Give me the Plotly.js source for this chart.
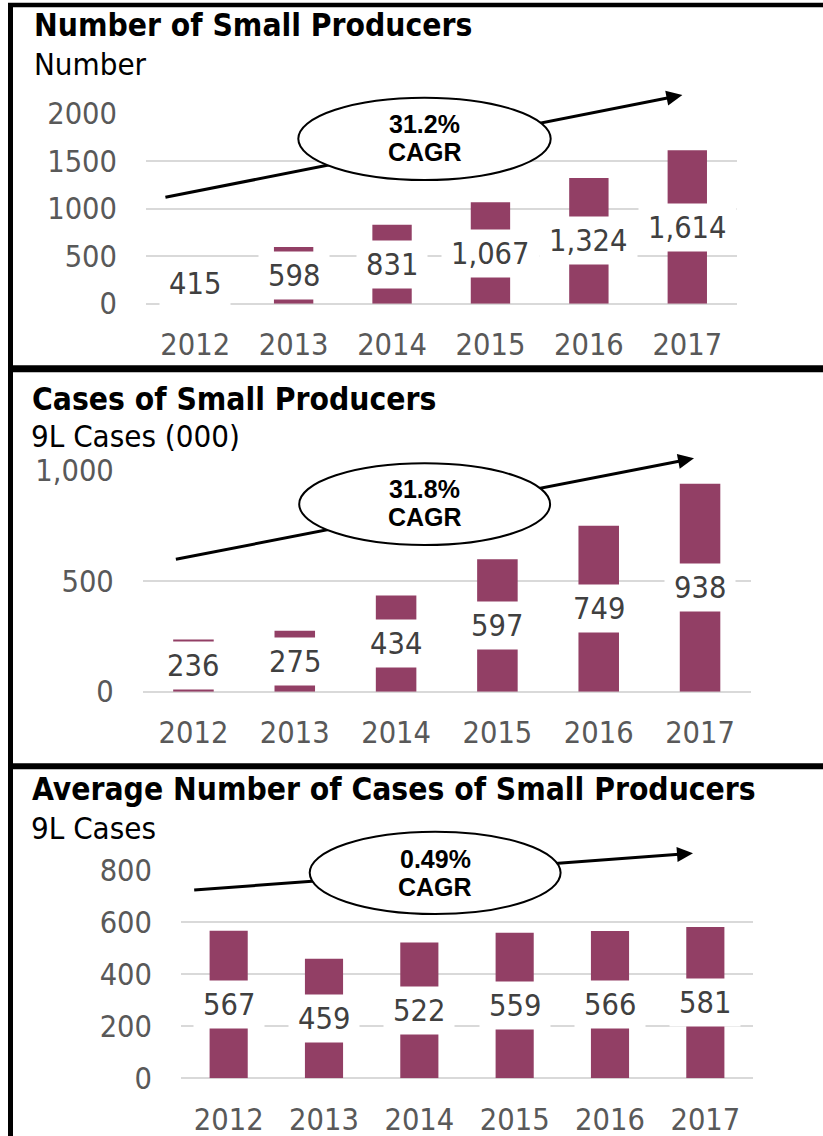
<!DOCTYPE html>
<html>
<head>
<meta charset="utf-8">
<script src="https://cdn.plot.ly/plotly-3.0.1.min.js"></script>
<style>html,body{margin:0;padding:0;background:#fff;}#chart{width:823px;height:1136px;}</style>
</head>
<body>
<div id="chart"></div>
<script>
// ---- data ----
const years = ['2012', '2013', '2014', '2015', '2016', '2017'];
const producers = [415, 598, 831, 1067, 1324, 1614];
const cases = [236, 275, 434, 597, 749, 938];
const avgCases = [567, 459, 522, 559, 566, 581];
const cagrLabels = ['31.2%', '31.8%', '0.49%'];
const panelTitles = ['Number of Small Producers', 'Cases of Small Producers', 'Average Number of Cases of Small Producers'];
const unitLabels = ['Number', '9L Cases (000)', '9L Cases'];
const yTickVals1 = [0, 500, 1000, 1500, 2000];
const yTickText1 = ['0', '500', '1000', '1500', '2000'];
const yTickVals2 = [0, 500, 1000];
const yTickText2 = ['0', '500', '1,000'];
const yTickVals3 = [0, 200, 400, 600, 800];
const yTickText3 = ['0', '200', '400', '600', '800'];

// ---- styling / geometry ----
const W = 823, H = 1136;
const BAR = '#923F65';
const TICK = '#595959';
const LABEL = '#404040';
const FONT = 'DejaVu Sans Condensed, DejaVu Sans, sans-serif';
const px = x => x / W;
const py = y => 1 - y / H;

const panels = [
  {vals: producers, tv: yTickVals1, tt: yTickText1, range: [0, 2000],
   x0: 146, x1: 736.5, yTop: 113.7, yBot: 303.7,
   titleY: 25.5, unitY: 64, titleX: 32, unitX: 32,
   ell: [298.3, 97.7, 550.7, 180], t1: 124.2, t2: 151.7, tx: 424.5,
   arr: [165.4, 197.3, 682.4, 95]},
  {vals: cases, tv: yTickVals2, tt: yTickText2, range: [0, 1000],
   x0: 142.8, x1: 750.7, yTop: 470, yBot: 691.7,
   titleY: 398.5, unitY: 436, titleX: 30, unitX: 29,
   ell: [299.2, 463.3, 550.1, 545], t1: 489.3, t2: 517.3, tx: 424.7,
   arr: [175.9, 559.3, 694, 458.3]},
  {vals: avgCases, tv: yTickVals3, tt: yTickText3, range: [0, 800],
   x0: 181, x1: 753, yTop: 870, yBot: 1078.3,
   titleY: 789.5, unitY: 827.5, titleX: 30, unitX: 29,
   ell: [309.7, 831.7, 560.6, 914], t1: 859, t2: 886.7, tx: 435,
   arr: [194.2, 890, 693, 853.3]}
];

const data = [];
const layout = {
  width: W, height: H,
  margin: {l: 0, r: 0, t: 0, b: 0},
  paper_bgcolor: '#fff', plot_bgcolor: 'rgba(0,0,0,0)',
  showlegend: false,
  bargap: 0.6,
  font: {family: FONT},
  annotations: [],
  shapes: []
};

panels.forEach((p, i) => {
  const n = i === 0 ? '' : String(i + 1);
  data.push({
    type: 'bar', x: years, y: p.vals,
    xaxis: 'x' + n, yaxis: 'y' + n,
    marker: {color: BAR}, hoverinfo: 'skip'
  });
  layout['xaxis' + n] = {
    domain: [px(p.x0), px(p.x1)], anchor: 'y' + n, type: 'category',
    range: [-0.5, years.length - 0.5],
    showgrid: false, zeroline: false, showline: false, ticks: '',
    tickfont: {size: 30.5, color: TICK, family: FONT},
    ticklabelstandoff: 20, fixedrange: true
  };
  layout['yaxis' + n] = {
    domain: [py(p.yBot), py(p.yTop)], anchor: 'x' + n,
    range: p.range, tickvals: p.tv, ticktext: p.tt,
    showgrid: true, gridcolor: '#D9D9D9', gridwidth: 2,
    zeroline: true, zerolinecolor: '#D9D9D9', zerolinewidth: 2,
    showline: false, ticks: '',
    tickfont: {size: 30.5, color: TICK, family: FONT},
    ticklabelstandoff: 28, fixedrange: true
  };
  // data labels with white boxes (category axis: x is the category index)
  p.vals.forEach((v, k) => {
    layout.annotations.push({
      xref: 'x' + n, yref: 'y' + n, x: k, y: v / 2,
      text: v.toLocaleString('en-US'), showarrow: false,
      font: {size: 30.5, color: LABEL, family: FONT},
      bgcolor: '#fff', borderpad: 9, height: 29,
      xanchor: 'center', yanchor: 'middle'
    });
  });
  // titles
  layout.annotations.push({
    xref: 'paper', yref: 'paper', x: px(p.titleX), y: py(p.titleY),
    xanchor: 'left', yanchor: 'middle', showarrow: false,
    text: '<b>' + panelTitles[i] + '</b>',
    font: {size: 31.5, color: '#000', family: FONT}
  });
  layout.annotations.push({
    xref: 'paper', yref: 'paper', x: px(p.unitX), y: py(p.unitY),
    xanchor: 'left', yanchor: 'middle', showarrow: false,
    text: unitLabels[i],
    font: {size: 31, color: '#000', family: FONT}
  });
  // arrow line + head (drawn before ellipse so the ellipse covers it)
  const [ax0, ay0, ax1, ay1] = p.arr;
  const dx = ax1 - ax0, dy = ay1 - ay0, len = Math.hypot(dx, dy);
  const ux = dx / len, uy = dy / len, nx = -uy, ny = ux;
  const L = 16, Wd = 7.5;
  const bx = ax1 - ux * L, by = ay1 - uy * L;
  layout.shapes.push({type: 'line', xref: 'paper', yref: 'paper', layer: 'above',
    x0: px(ax0), y0: py(ay0), x1: px(bx + ux * 2), y1: py(by + uy * 2),
    line: {color: '#000', width: 3}});
  layout.shapes.push({type: 'path', xref: 'paper', yref: 'paper', layer: 'above',
    path: `M ${px(ax1)} ${py(ay1)} L ${px(bx + nx * Wd)} ${py(by + ny * Wd)} L ${px(bx - nx * Wd)} ${py(by - ny * Wd)} Z`,
    fillcolor: '#000', line: {color: '#000', width: 0}});
  layout.shapes.push({type: 'circle', xref: 'paper', yref: 'paper', layer: 'above',
    x0: px(p.ell[0]), y0: py(p.ell[3]), x1: px(p.ell[2]), y1: py(p.ell[1]),
    fillcolor: '#fff', line: {color: '#000', width: 2}});
  layout.annotations.push({
    xref: 'paper', yref: 'paper', x: px(p.tx), y: py(p.t1),
    xanchor: 'center', yanchor: 'middle', showarrow: false,
    text: '<b>' + cagrLabels[i] + '</b>',
    font: {size: 25, color: '#000', family: 'Liberation Sans, Arial, sans-serif'}
  });
  layout.annotations.push({
    xref: 'paper', yref: 'paper', x: px(p.tx), y: py(p.t2),
    xanchor: 'center', yanchor: 'middle', showarrow: false,
    text: '<b>CAGR</b>',
    font: {size: 25, color: '#000', family: 'Liberation Sans, Arial, sans-serif'}
  });
});

// panel borders
const border = (x0, y0, x1, y1, w) => layout.shapes.push({
  type: 'line', xref: 'paper', yref: 'paper', layer: 'above',
  x0: px(x0), y0: py(y0), x1: px(x1), y1: py(y1), line: {color: '#000', width: w}});
border(10.5, 3, 10.5, 1140, 5);
border(8, 5, 830, 5, 4.5);
border(8, 368.7, 830, 368.7, 7);
border(8, 766.3, 830, 766.3, 6);

Plotly.newPlot('chart', data, layout, {staticPlot: true, displayModeBar: false});
</script>
</body>
</html>
